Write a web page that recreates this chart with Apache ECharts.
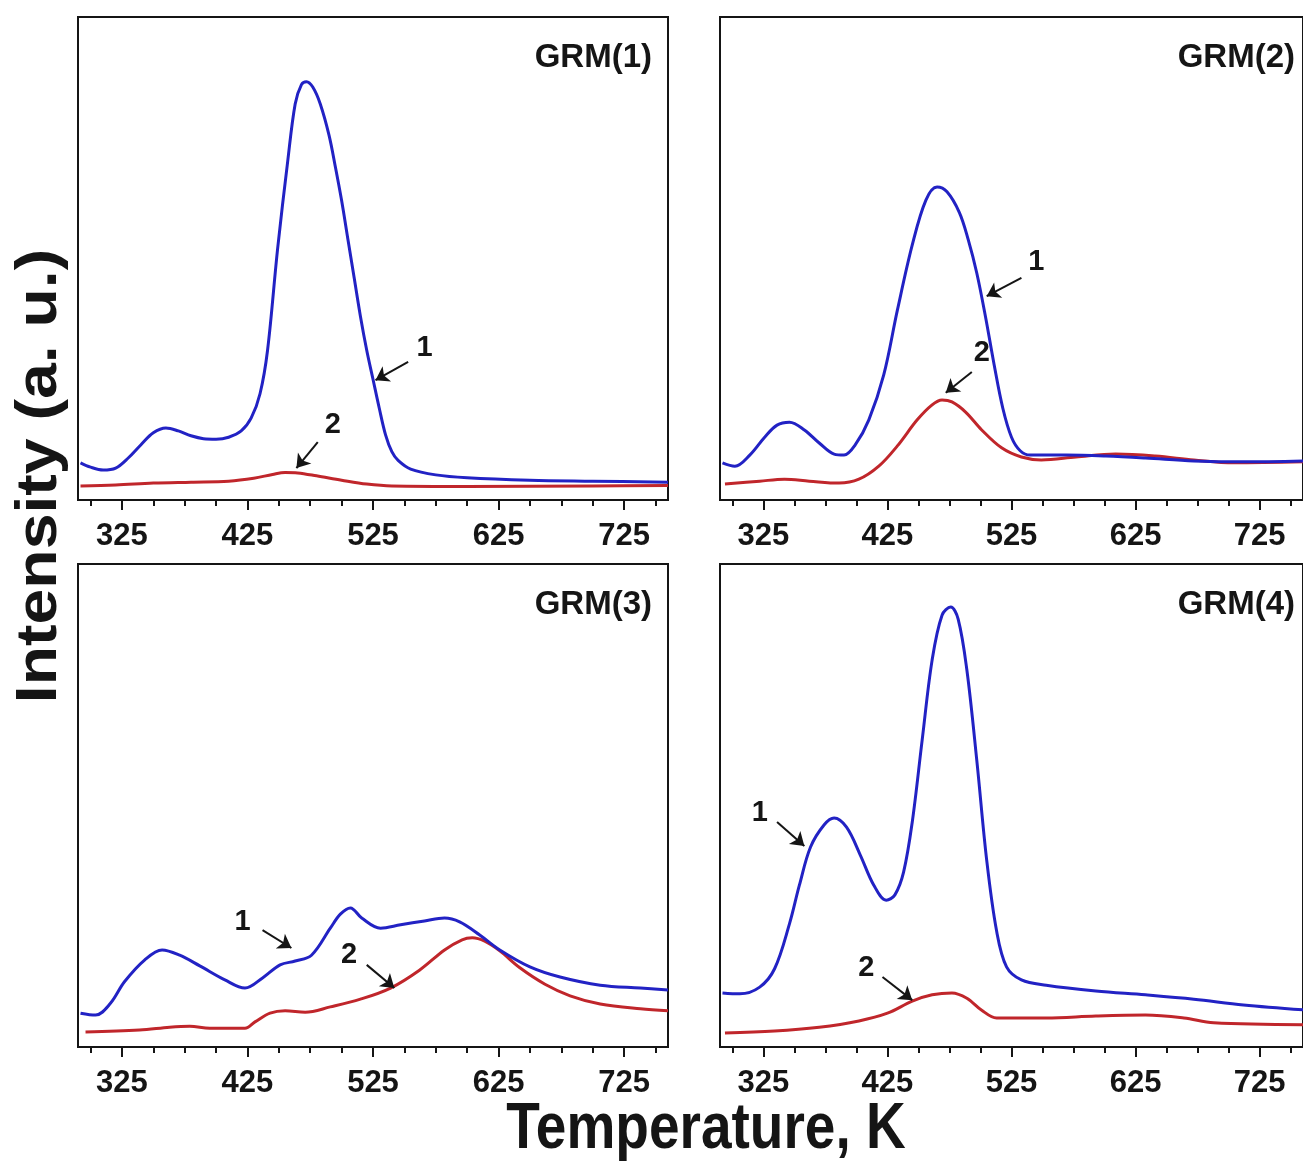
<!DOCTYPE html>
<html>
<head>
<meta charset="utf-8">
<script src="https://cdn.jsdelivr.net/npm/echarts@6/dist/echarts.min.js"></script>
<style>
  html, body { margin: 0; padding: 0; background: #ffffff; }
  #chart { width: 1303px; height: 1161px; }
</style>
</head>
<body>
<div id="chart"></div>
<script>
// Temperature axis (K)
const tempMin = 290;
const tempMax = 760;
const majorTicks = [325, 425, 525, 625, 725];
const minorTicks = [300, 350, 375, 400, 450, 475, 500, 550, 575, 600, 650, 675, 700, 750];

const panelNames = ['GRM(1)', 'GRM(2)', 'GRM(3)', 'GRM(4)'];

// [temperature K, intensity a.u.] — curve 1 (blue) and curve 2 (red) per sample
const grm1Curve1 = [[292,7.7],[300,6.8],[310,6.2],[320,6.6],[330,8.7],[340,11.4],[350,13.9],[360,14.9],[370,14.3],[380,13.3],[390,12.7],[400,12.6],[410,13.0],[420,14.3],[428,17],[435,22],[441,31],[449,52],[457,70],[463,82],[468,86],[472,86.6],[477,85.5],[483,82],[490,75.5],[495,69],[500,62],[505,54],[510,46],[515,38],[520,31],[525,25],[530,19],[535,13.5],[540,10],[545,8.2],[555,6.4],[575,5.2],[600,4.6],[650,4.1],[700,3.9],[760,3.7]];
const grm1Curve2 = [[292,2.9],[320,3.1],[350,3.5],[380,3.7],[410,3.9],[430,4.5],[445,5.3],[455,5.7],[465,5.6],[480,5.0],[500,4.1],[520,3.3],[540,2.9],[600,2.8],[700,2.9],[760,3.0]];

const grm2Curve1 = [[292,7.7],[302,7.0],[314,9.3],[326,13.0],[336,15.5],[346,16.1],[358,14.5],[370,11.8],[382,9.5],[390,9.3],[399,11.4],[410,16.6],[422,25.9],[433,39.3],[445,52.8],[456,62.1],[465,64.8],[473,63.8],[483,59.5],[490,54],[497,47],[504,38],[511,28],[518,19],[525,13],[532,10.2],[540,9.3],[569,9.3],[601,9.1],[633,8.7],[672,8.1],[712,7.9],[760,8.1]];
const grm2Curve2 = [[294,3.3],[322,3.9],[342,4.3],[362,3.9],[386,3.5],[402,4.3],[418,7.0],[433,11.2],[449,16.6],[461,19.7],[469,20.7],[477,20.3],[488,18.2],[501,14.5],[517,10.8],[533,8.9],[549,8.3],[577,8.9],[609,9.5],[641,9.1],[672,8.3],[704,7.7],[760,7.9]];

const grm3Curve1 = [[292,7.0],[304,6.6],[316,9.1],[327,13.5],[343,18.0],[357,20.1],[371,19.0],[387,16.8],[407,13.9],[423,12.2],[437,14.3],[451,17.0],[463,17.8],[476,19.0],[491,24.6],[499,27.5],[507,28.8],[516,26.7],[531,24.6],[547,25.3],[566,26.1],[582,26.7],[594,25.9],[610,23.2],[626,20.1],[650,16.6],[674,14.5],[706,12.8],[738,12.2],[760,11.8]];
const grm3Curve2 = [[296,3.1],[339,3.5],[363,4.1],[379,4.3],[395,3.9],[423,3.9],[431,5.2],[443,7.0],[455,7.5],[471,7.2],[491,8.3],[515,9.9],[539,12.2],[562,15.9],[582,20.1],[596,22.2],[604,22.6],[614,21.9],[626,19.9],[642,16.4],[662,13.0],[682,10.6],[706,8.9],[738,7.9],[760,7.5]];

const grm4Curve1 = [[292,11.2],[306,11.0],[322,12.4],[334,16.2],[346,25.5],[354,33.5],[363,41.4],[374,46.0],[382,47.4],[392,45.5],[403,39.8],[414,33.5],[424,30.4],[431,31.5],[438,36.2],[445,46.6],[453,63.6],[461,80.1],[469,89.4],[476,91.1],[482,88.6],[489,78.1],[497,59.4],[505,38.7],[513,24.0],[521,16.6],[533,13.9],[553,12.8],[593,11.6],[633,10.8],[672,9.9],[712,8.7],[760,7.7]];
const grm4Curve2 = [[294,2.9],[334,3.3],[370,4.1],[402,5.4],[425,7.0],[445,9.5],[461,10.8],[477,11.2],[489,10.1],[501,7.6],[513,6.0],[553,6.0],[593,6.4],[633,6.6],[664,6.0],[688,5.0],[760,4.6]];

// Curve markers "1"/"2": label point, arrow tail, arrow head (data coordinates)
const grm1Notes = [{ text: '1', at: [566, 31.5], from: [553, 28.6], to: [527, 24.8] },
                   { text: '2', at: [493, 15.5], from: [481, 12.0], to: [464, 6.6] }];
const grm2Notes = [{ text: '1', at: [545, 49.3], from: [533, 46.0], to: [505, 42.2] },
                   { text: '2', at: [501, 30.4], from: [493, 26.5], to: [472, 22.2] }];
const grm3Notes = [{ text: '1', at: [421, 25.9], from: [437, 24.2], to: [460, 20.5] },
                   { text: '2', at: [506, 19.0], from: [520, 17.0], to: [542, 12.2] }];
const grm4Notes = [{ text: '1', at: [322, 48.4], from: [336, 46.6], to: [358, 41.6] },
                   { text: '2', at: [408, 16.4], from: [421, 14.5], to: [445, 9.7] }];

const panelCurves = [
  [grm1Curve1, grm1Curve2],
  [grm2Curve1, grm2Curve2],
  [grm3Curve1, grm3Curve2],
  [grm4Curve1, grm4Curve2]
];
const panelNotes = [grm1Notes, grm2Notes, grm3Notes, grm4Notes];

// ---- styling ----
const curveColors = ['#2222c4', '#c0262b'];
const ink = '#151515';
const fontFamily = 'Liberation Sans';

const gridBoxes = [
  { left: 78,  top: 17 },
  { left: 720, top: 17 },
  { left: 78,  top: 564 },
  { left: 720, top: 564 }
];
const gridW = 590, gridH = 483;

const grids = [], xAxes = [], yAxes = [], series = [], titles = [];

gridBoxes.forEach((g, i) => {
  grids.push({
    left: g.left, top: g.top, width: gridW, height: gridH,
    show: true, borderColor: ink, borderWidth: 2, backgroundColor: 'transparent'
  });
  // major ticks + labels
  xAxes.push({
    gridIndex: i, type: 'value', min: tempMin, max: tempMax, position: 'bottom',
    axisLine: { show: true, onZero: false, lineStyle: { color: ink, width: 2 } },
    axisTick: { show: true, inside: false, length: 10, customValues: majorTicks,
                lineStyle: { color: ink, width: 2 } },
    axisLabel: { show: true, customValues: majorTicks, margin: 21,
                 fontFamily: fontFamily, fontSize: 31,
                 fontWeight: 'bold', color: ink },
    splitLine: { show: false }
  });
  // minor ticks
  xAxes.push({
    gridIndex: i, type: 'value', min: tempMin, max: tempMax, position: 'bottom', offset: 0,
    axisLine: { show: false, onZero: false },
    axisTick: { show: true, inside: false, length: 6, customValues: minorTicks,
                lineStyle: { color: ink, width: 2 } },
    axisLabel: { show: false },
    splitLine: { show: false }
  });
  yAxes.push({ gridIndex: i, type: 'value', min: 0, max: 100, show: false });

  const right = g.left + gridW > 1303 ? 8 : 1303 - (g.left + gridW) + 16;
  titles.push({
    text: panelNames[i], right: right, top: g.top + 24, padding: 0,
    textStyle: { fontFamily: fontFamily, fontSize: 33, fontWeight: 'bold', color: ink }
  });

  panelCurves[i].forEach((curve, c) => {
    const note = panelNotes[i][c];
    series.push({
      type: 'line', xAxisIndex: 2 * i, yAxisIndex: i,
      data: curve, smooth: 0.35, showSymbol: false, symbol: 'none',
      lineStyle: { color: curveColors[c], width: 3 },
      z: c === 0 ? 3 : 2,
      markLine: {
        silent: true, symbol: ['none', 'arrow'], symbolSize: 13,
        itemStyle: { color: ink },
        lineStyle: { color: ink, width: 2, type: 'solid' },
        label: { show: false },
        emphasis: { disabled: true },
        data: [[{ coord: note.from }, { coord: note.to }]]
      },
      markPoint: {
        silent: true, symbol: 'circle', symbolSize: 1,
        itemStyle: { color: 'rgba(0,0,0,0)' },
        label: { show: true, position: 'inside', formatter: note.text,
                 fontFamily: fontFamily, fontSize: 29,
                 fontWeight: 'bold', color: ink },
        data: [{ coord: note.at }]
      }
    });
  });
});

const chart = echarts.init(document.getElementById('chart'), null, { renderer: 'canvas' });
chart.setOption({
  animation: false,
  backgroundColor: '#ffffff',
  title: titles,
  grid: grids,
  xAxis: xAxes,
  yAxis: yAxes,
  series: series,
  graphic: [
    {
      type: 'text', x: 706, y: 1130, scaleY: 1.17,
      style: { text: 'Temperature, K', fontFamily: fontFamily, fontSize: 55,
               fontWeight: 'bold', fill: ink, align: 'center', verticalAlign: 'middle' }
    },
    {
      type: 'text', x: 40, y: 476, rotation: Math.PI / 2, scaleX: 1.11,
      style: { text: 'Intensity (a. u.)', fontFamily: fontFamily, fontSize: 58,
               fontWeight: 'bold', fill: ink, align: 'center', verticalAlign: 'middle' }
    }
  ]
});
</script>
</body>
</html>
